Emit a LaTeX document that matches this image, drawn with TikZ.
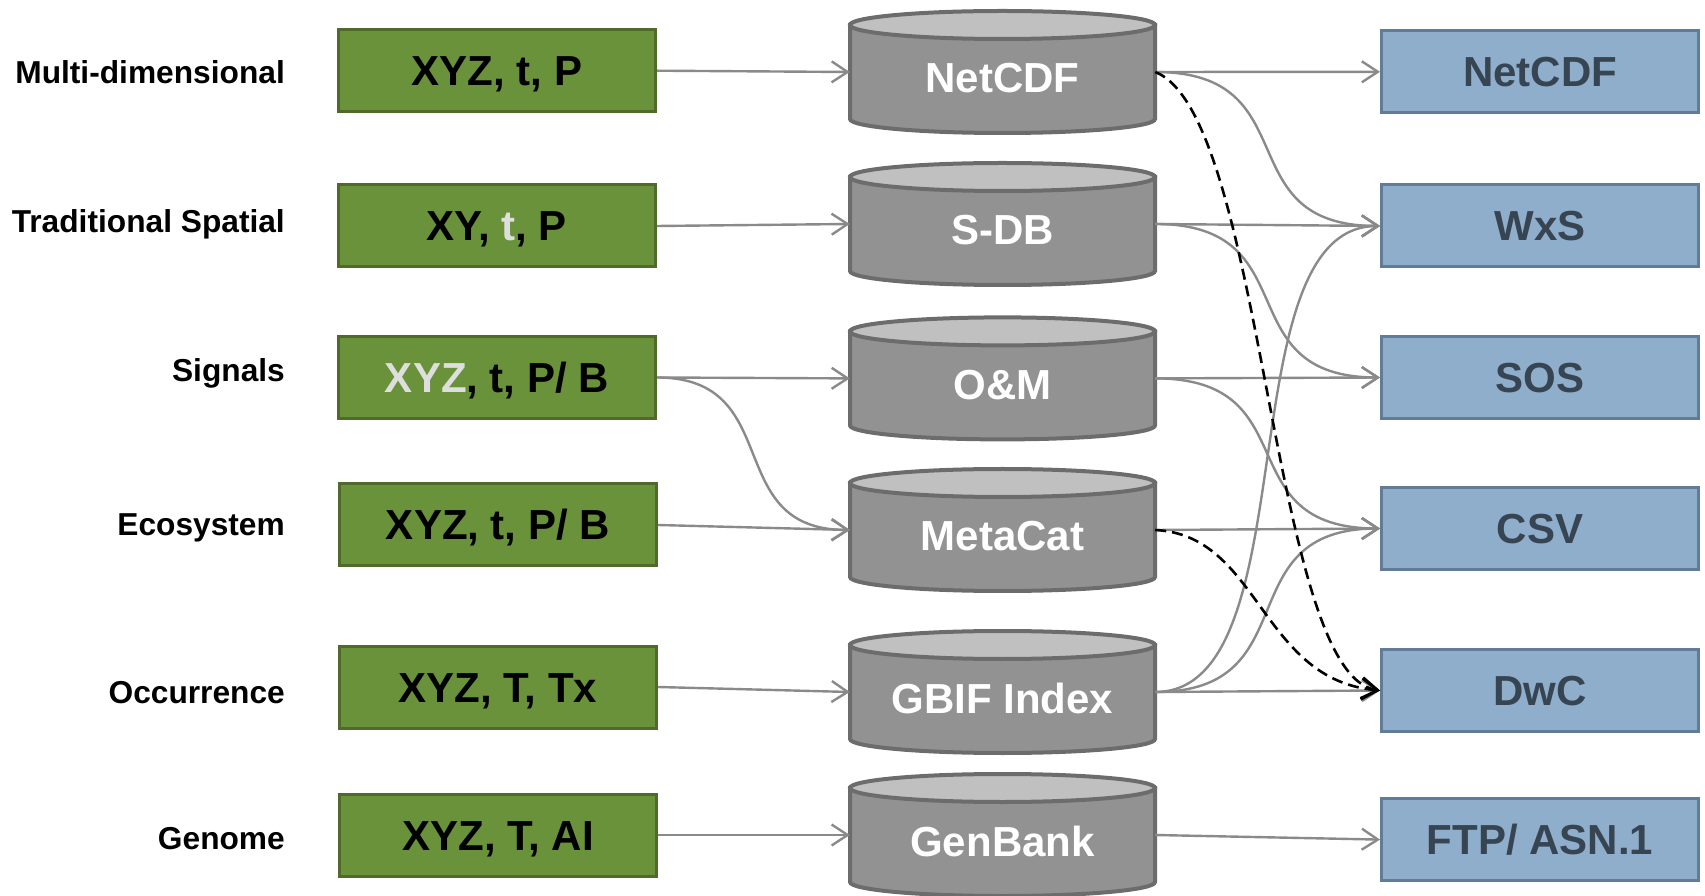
\documentclass[tikz,border=0pt]{standalone}
\usepackage{fontspec}
\setmainfont{Liberation Sans}
\usetikzlibrary{arrows.meta,backgrounds}
\definecolor{gfill}{RGB}{106,146,58}
\definecolor{gline}{RGB}{79,106,42}
\definecolor{bfill}{RGB}{143,174,204}
\definecolor{bline}{RGB}{98,124,152}
\definecolor{btext}{RGB}{55,68,82}
\definecolor{cbody}{RGB}{146,146,146}
\definecolor{ctop}{RGB}{192,192,192}
\definecolor{cline}{RGB}{108,108,108}
\definecolor{conn}{RGB}{138,138,138}
\definecolor{lite}{RGB}{222,222,222}
\newcommand\cylshape[1]{%
  \begin{scope}[shift={(#1.center)}]
    \draw[cylline,fill=cbody] (-152.5,47) -- (-152.5,-47)
      arc[start angle=180,end angle=360,x radius=152.5pt,y radius=14pt]
      -- (152.5,47) -- cycle;
    \draw[cylline,fill=ctop] (0,47) ellipse[x radius=152.5pt,y radius=14pt];
  \end{scope}}
\begin{document}
\begin{tikzpicture}[x=1pt,y=1pt,
  lab/.style={anchor=east,font=\fontsize{31.7}{36}\selectfont\bfseries,text height=23pt,text depth=0pt,inner sep=0pt},
  gbox/.style={draw=gline,fill=gfill,line width=3pt,minimum width=317pt,minimum height=82pt,
    font=\fontsize{42}{48}\selectfont\bfseries,text height=30pt,text depth=0pt,inner sep=0pt},
  bbox/.style={draw=bline,fill=bfill,line width=3pt,minimum width=317pt,minimum height=82pt,text=btext,
    font=\fontsize{42}{48}\selectfont\bfseries,text height=30pt,text depth=0pt,inner sep=0pt},
  cyl/.style={minimum width=305pt,minimum height=122pt,inner sep=0pt,text=white,
    font=\fontsize{42}{48}\selectfont\bfseries,text height=42pt,text depth=0pt},
  cylline/.style={draw=cline,line width=4pt},
  link/.style={draw=conn,line width=2.4pt,-{Straight Barb[length=16pt,width=21pt]}},
  dlink/.style={draw=black,line width=2.6pt,dash pattern=on 11pt off 6pt,-{Straight Barb[length=16pt,width=21pt]}}
]
\useasboundingbox (0,0) rectangle (1705,895);

% labels
\node[lab] (l1) at (285,823) {Multi-dimensional};
\node[lab] (l2) at (285,674) {Traditional Spatial};
\node[lab] (l3) at (285,525) {Signals};
\node[lab] (l4) at (285,371) {Ecosystem};
\node[lab] (l5) at (285,203) {Occurrence};
\node[lab] (l6) at (285,57) {Genome};

% green boxes
\node[gbox] (g1) at (497,824.3) {XYZ, t, P};
\node[gbox] (g2) at (497,669) {XY, \textcolor{lite}{t}, P};
\node[gbox] (g3) at (497,517.5) {\textcolor{lite}{XYZ}, t, P/ B};
\node[gbox] (g4) at (498,370) {XYZ, t, P/ B};
\node[gbox] (g5) at (498,208) {XYZ, T, Tx};
\node[gbox] (g6) at (498,60) {XYZ, T, AI};

% cylinders
\node[cyl] (c1) at (1002.5,823) {NetCDF};
\node[cyl] (c2) at (1002.5,671) {S-DB};
\node[cyl] (c3) at (1002.5,516.6) {O\&M};
\node[cyl] (c4) at (1002.5,365) {MetaCat};
\node[cyl] (c5) at (1002.5,203) {GBIF Index};
\node[cyl] (c6) at (1002.5,60) {GenBank};
\begin{scope}[on background layer]
  \cylshape{c1}\cylshape{c2}\cylshape{c3}\cylshape{c4}\cylshape{c5}\cylshape{c6}
\end{scope}

% blue boxes
\node[bbox] (b1) at (1540,823.2) {NetCDF};
\node[bbox] (b2) at (1540,669) {WxS};
\node[bbox] (b3) at (1540,517.5) {SOS};
\node[bbox] (b4) at (1540,366.5) {CSV};
\node[bbox] (b5) at (1540,204.5) {DwC};
\node[bbox] (b6) at (1540,55.4) {FTP/ ASN.1};

% left connectors
\draw[link] (g1.east) -- (c1.west);
\draw[link] (g2.east) -- (c2.west);
\draw[link] (g3.east) -- (c3.west);
\draw[link] (g3.east) .. controls +(130,0) and +(-130,0) .. (c4.west);
\draw[link] (g4.east) -- (c4.west);
\draw[link] (g5.east) -- (c5.west);
\draw[link] (g6.east) -- (c6.west);

% right connectors
\draw[link] (c1.east) -- (b1.west);
\draw[link] (c1.east) .. controls +(155,0) and +(-155,0) .. (b2.west);
\draw[link] (c2.east) -- (b2.west);
\draw[link] (c2.east) .. controls +(155,0) and +(-155,0) .. (b3.west);
\draw[link] (c3.east) -- (b3.west);
\draw[link] (c3.east) .. controls +(155,0) and +(-155,0) .. (b4.west);
\draw[link] (c4.east) -- (b4.west);
\draw[link] (c5.east) -- (b5.west);
\draw[link] (c5.east) .. controls +(155,0) and +(-155,0) .. (b2.west);
\draw[link] (c5.east) .. controls +(155,0) and +(-155,0) .. (b4.west);
\draw[link] (c6.east) -- (b6.west);
\draw[dlink] (c1.east) .. controls (1265,780) and (1270,220) .. (b5.west);
\draw[dlink] (c4.east) .. controls (1260,360) and (1260,215) .. (b5.west);
\end{tikzpicture}
\end{document}
